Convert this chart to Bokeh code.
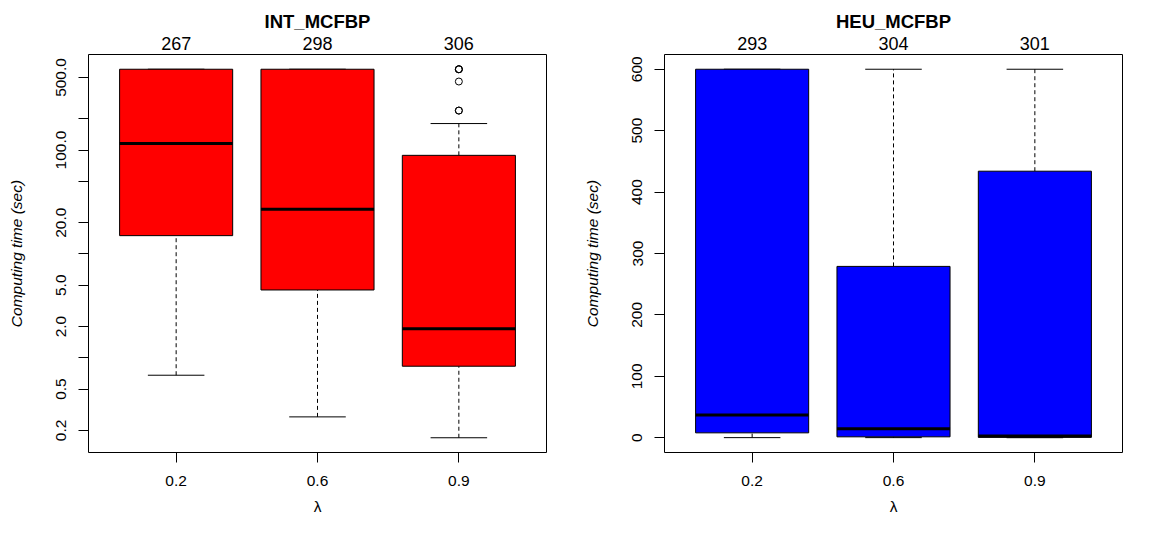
from bokeh.plotting import figure
from bokeh.layouts import row
from bokeh.models import Range1d, FixedTicker, LinearAxis, ColumnDataSource
from bokeh.embed import file_html
from bokeh.resources import INLINE
import numpy as np

# ---------------- data ----------------
lambda_labels = ["0.2", "0.6", "0.9"]
positions = [1, 2, 3]

int_counts = [267, 298, 306]
int_upper_whisker = [600, 600, 180]
int_q3 = [600, 600, 89]
int_median = [116, 27, 1.9]
int_q1 = [15, 4.5, 0.83]
int_lower_whisker = [0.68, 0.27, 0.17]
int_outlier_pos = [3, 3, 3, 3, 3, 3]
int_outlier_val = [600, 600, 600, 457, 240, 240]

heu_counts = [293, 304, 301]
heu_upper_whisker = [600, 600, 600]
heu_q3 = [600, 279, 434]
heu_median = [37, 14.5, 3]
heu_q1 = [8, 1.5, 0.7]
heu_lower_whisker = [0.2, 0.2, 0.1]

int_yticks = [0.2, 0.5, 1, 2, 5, 10, 20, 50, 100, 200, 500]
int_ytick_labels = ["0.2", "0.5", "", "2.0", "5.0", "", "20.0", "", "100.0", "", "500.0"]
heu_yticks = [0, 100, 200, 300, 400, 500, 600]
heu_ytick_labels = ["0", "100", "200", "300", "400", "500", "600"]

FONT = "Liberation Sans"
BASE = "15.5px"
H = 517


def make_panel(title, counts, upper, q3, med, q1, lower, fill, log, width,
               yticks, ylabels, out_pos=None, out_val=None,
               b_left=88, b_right=30):
    allv = list(upper) + list(lower) + (list(out_val) if out_val else [])
    lo, hi = min(allv), max(allv)
    if log:
        llo, lhi = np.log10(lo), np.log10(hi)
        ext = 0.04 * (lhi - llo)
        yr = Range1d(10 ** (llo - ext), 10 ** (lhi + ext))
    else:
        lo = min(lo, 0)
        ext = 0.04 * (hi - lo)
        yr = Range1d(lo - ext, hi + ext)
    n = len(positions)
    xr = Range1d(0.5 - 0.04 * n, n + 0.5 + 0.04 * n)

    p = figure(width=width, height=H, x_range=xr, y_range=yr,
               y_axis_type="log" if log else "linear",
               output_backend="svg", toolbar_location=None,
               min_border_left=b_left, min_border_right=b_right,
               min_border_top=54, min_border_bottom=63)
    p.grid.visible = False
    p.outline_line_color = "black"
    p.outline_line_width = 1
    p.background_fill_color = "white"
    p.border_fill_color = "white"

    p.title.text = title
    p.title.align = "center"
    p.title.text_font = FONT
    p.title.text_font_size = "18.5px"
    p.title.text_font_style = "bold"
    p.title.text_color = "black"
    p.title.standoff = 3

    xa = p.below[0]
    xa.ticker = FixedTicker(ticks=positions)
    xa.major_label_overrides = {pos: lab for pos, lab in zip(positions, lambda_labels)}
    xa.axis_line_color = None
    xa.major_tick_in = 0
    xa.major_tick_out = 10
    xa.minor_tick_line_color = None
    xa.major_label_standoff = 13
    xa.major_label_text_font = FONT
    xa.major_label_text_font_size = BASE
    xa.major_label_text_color = "black"
    xa.axis_label = "λ"
    xa.axis_label_text_font = FONT
    xa.axis_label_text_font_size = BASE
    xa.axis_label_text_font_style = "normal"
    xa.axis_label_text_color = "black"
    xa.axis_label_standoff = 9

    ya = p.left[0]
    ya.ticker = FixedTicker(ticks=yticks)
    ya.major_label_overrides = {t: l for t, l in zip(yticks, ylabels)}
    ya.axis_line_color = None
    ya.major_tick_in = 0
    ya.major_tick_out = 10
    ya.minor_tick_line_color = None
    ya.major_label_orientation = "vertical"
    ya.major_label_standoff = 12
    ya.major_label_text_font = FONT
    ya.major_label_text_font_size = BASE
    ya.major_label_text_color = "black"
    ya.axis_label = "Computing time (sec)"
    ya.axis_label_text_font = FONT
    ya.axis_label_text_font_size = BASE
    ya.axis_label_text_font_style = "italic"
    ya.axis_label_text_color = "black"
    ya.axis_label_standoff = 29

    # counts above the frame
    top = LinearAxis(ticker=FixedTicker(ticks=positions),
                     major_label_overrides={pos: str(c) for pos, c in zip(positions, counts)})
    top.axis_line_color = None
    top.major_tick_line_color = None
    top.minor_tick_line_color = None
    top.major_tick_in = 0
    top.major_tick_out = 0
    top.major_label_standoff = 5
    top.major_label_text_font = FONT
    top.major_label_text_font_size = "18px"
    top.major_label_text_color = "black"
    p.add_layout(top, "above")

    x = np.array(positions, dtype=float)
    src = ColumnDataSource(dict(
        x=x, left=x - 0.4, right=x + 0.4, cl=x - 0.2, cr=x + 0.2,
        upper=upper, q3=q3, med=med, q1=q1, lower=lower))

    # whiskers (dashed)
    p.segment(x0="x", x1="x", y0="q3", y1="upper", source=src,
              line_color="black", line_width=1, line_dash="4 3")
    p.segment(x0="x", x1="x", y0="lower", y1="q1", source=src,
              line_color="black", line_width=1, line_dash="4 3")
    # caps
    p.segment(x0="cl", x1="cr", y0="upper", y1="upper", source=src,
              line_color="black", line_width=1)
    p.segment(x0="cl", x1="cr", y0="lower", y1="lower", source=src,
              line_color="black", line_width=1)
    # boxes
    p.quad(left="left", right="right", top="q3", bottom="q1", source=src,
           fill_color=fill, line_color="black", line_width=1)
    # medians
    p.segment(x0="left", x1="right", y0="med", y1="med", source=src,
              line_color="black", line_width=3)

    if out_pos:
        p.scatter(x=out_pos, y=out_val, marker="circle", size=7,
                  fill_color=None, line_color="black", line_width=1)
    return p


p1 = make_panel("INT_MCFBP", int_counts, int_upper_whisker, int_q3, int_median,
                int_q1, int_lower_whisker, "#FF0000", True, 576,
                int_yticks, int_ytick_labels, int_outlier_pos, int_outlier_val,
                b_left=88, b_right=30)
p2 = make_panel("HEU_MCFBP", heu_counts, heu_upper_whisker, heu_q3, heu_median,
                heu_q1, heu_lower_whisker, "#0000FF", False, 569,
                heu_yticks, heu_ytick_labels, b_left=88, b_right=23)

layout = row(p1, p2)
open("out.html", "w").write(file_html(layout, INLINE))
